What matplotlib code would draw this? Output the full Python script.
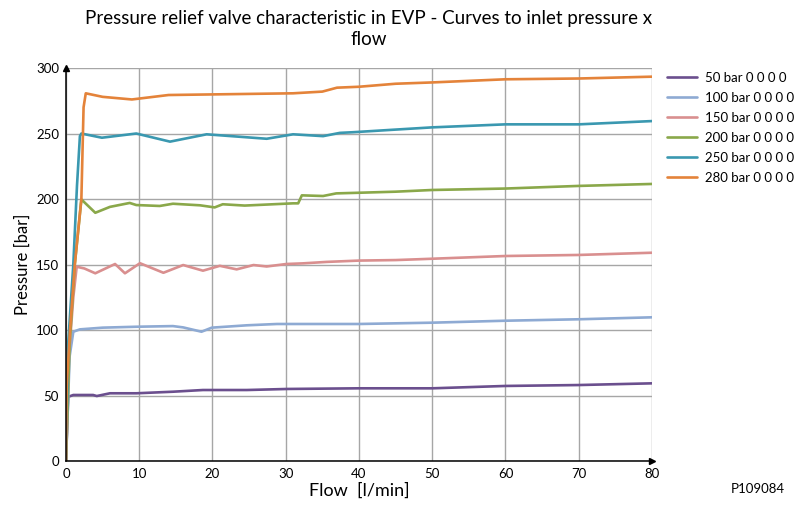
import numpy as np
import matplotlib
matplotlib.use("Agg")
import matplotlib.pyplot as plt

plt.rcParams['font.family'] = ['Lato', 'DejaVu Sans']

# readings: flow [l/min] vs pressure [bar]
flow_50 = [0, 0.3, 1.0, 3.7, 4.2, 6.0, 9.6, 14.6, 18.7, 24.7, 30.2, 40, 50, 60, 70, 80]
p_50 = [0, 49, 50.4, 50.4, 49.6, 51.7, 51.7, 52.9, 54.2, 54.2, 55, 55.5, 55.5, 57.3, 58, 59.3]

flow_100 = [0, 0.5, 1.0, 1.9, 5, 9.6, 14.6, 16.0, 18.5, 19.9, 24.7, 28.8, 40, 45, 50, 60, 70, 80]
p_100 = [0, 80, 98.7, 100.5, 101.8, 102.5, 103, 102, 98.7, 101.8, 103.6, 104.6,
         104.6, 105.1, 105.6, 107.1, 108.2, 109.7]

flow_150 = [0, 0.4, 1.0, 1.46, 2.5, 4.0, 6.7, 8.05, 10.1, 13.3, 16.0, 18.7, 21.0,
            23.3, 25.6, 27.4, 30.1, 32.4, 35.6, 40, 45, 48, 60, 70, 80]
p_150 = [0, 80, 125, 148.3, 147, 143.3, 150.4, 143.3, 151, 143.7, 149.6, 145.3, 149,
         146.3, 149.6, 148.5, 150.4, 150.9, 152, 153, 153.4, 154, 156.5, 157.3, 159]

flow_200 = [0, 0.5, 1.2, 2.1, 4.0, 6.0, 8.7, 9.6, 12.8, 14.6, 18.3, 20.3, 21.4, 24.4,
            31.0, 31.7, 32.2, 35.1, 36.9, 40.1, 45, 50, 60, 70, 80]
p_200 = [0, 90, 150, 199.7, 189.5, 194, 197, 195.4, 194.7, 196.4, 195.2, 193.6, 196,
         195, 196.7, 196.7, 202.8, 202.3, 204.3, 204.8, 205.6, 206.9, 208, 210, 211.5]

flow_250 = [0, 0.3, 1.0, 1.5, 1.9, 2.1, 4.9, 9.6, 14.2, 19.2, 27.4, 31.0, 35.1, 37.4,
            39.2, 45, 50, 60, 70, 80]
p_250 = [0, 90, 150, 210, 248, 250, 246.8, 250, 243.8, 249.4, 246, 249.4, 248, 250.5,
         251, 253, 254.7, 257, 257, 259.5]

flow_280 = [0, 0.1, 0.55, 1.2, 2.1, 2.4, 2.7, 5, 9, 14, 31, 35, 37, 40, 45, 50, 60, 70, 80]
p_280 = [0, 57, 100, 150, 200, 270, 280.7, 278, 276, 279.4, 280.7, 282, 285, 285.7,
         288, 289, 291.4, 292, 293.4]

labels = ['50 bar 0 0 0 0', '100 bar 0 0 0 0', '150 bar 0 0 0 0',
          '200 bar 0 0 0 0', '250 bar 0 0 0 0', '280 bar 0 0 0 0']
colors = ['#6b4f8e', '#8eaad3', '#d98f8f', '#8aa84a', '#3a98b0', '#e4833a']
series = [(flow_50, p_50), (flow_100, p_100), (flow_150, p_150),
          (flow_200, p_200), (flow_250, p_250), (flow_280, p_280)]

fig = plt.figure(figsize=(7.97, 5.05), dpi=100)
ax = fig.add_axes([0.0828, 0.0871, 0.7352, 0.7782])

for (x, y), lab, c in zip(series, labels, colors):
    ax.plot(x, y, color=c, lw=1.9, label=lab, solid_capstyle='round')

ax.set_xlim(0, 80)
ax.set_ylim(0, 300)
ax.set_xticks(np.arange(0, 81, 10))
ax.set_yticks(np.arange(0, 301, 50))
ax.grid(True, color='#a6a6a6', lw=1.0)
ax.set_axisbelow(True)
ax.tick_params(length=0, labelsize=9.5, pad=5)

for side in ['top', 'right']:
    ax.spines[side].set_visible(False)
for side in ['left', 'bottom']:
    ax.spines[side].set_linewidth(1.1)

# axis arrow heads
ax.plot(1, 0, '>k', ms=4, transform=ax.transAxes, clip_on=False)
ax.plot(0, 1, '^k', ms=4, transform=ax.transAxes, clip_on=False)

ax.set_xlabel('Flow  [l/min]', fontsize=13, labelpad=2)
ax.set_ylabel('Pressure [bar]', fontsize=12, labelpad=4)

ax.legend(loc='upper left', bbox_to_anchor=(1.025, 0.99), frameon=False,
          borderaxespad=0, borderpad=0, fontsize=9.5, handlelength=2.3,
          handletextpad=0.6, labelspacing=0.6)

fig.text(0.463, 0.943, 'Pressure relief valve characteristic in EVP - Curves to inlet pressure x\nflow',
         ha='center', va='center', fontsize=13.5, linespacing=1.25)
fig.text(0.985, 0.02, 'P109084', ha='right', va='bottom', fontsize=9.5)

fig.savefig('out.png', dpi=100)
